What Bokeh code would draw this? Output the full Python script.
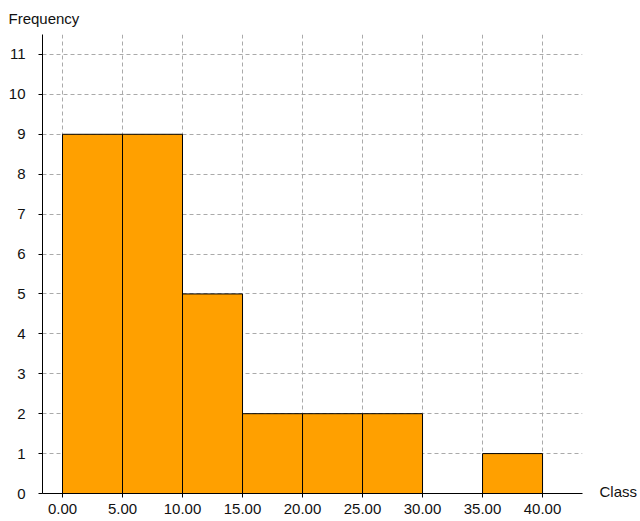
from bokeh.plotting import figure
from bokeh.models import Range1d, FixedTicker, CustomJSTickFormatter, LinearAxis, Title
from bokeh.embed import file_html
from bokeh.resources import INLINE

bin_left = [0, 5, 10, 15, 20, 25, 30, 35]
bin_right = [5, 10, 15, 20, 25, 30, 35, 40]
frequency = [9, 9, 5, 2, 2, 2, 0, 1]
x_ticks = [0, 5, 10, 15, 20, 25, 30, 35, 40]
y_ticks = list(range(0, 12))
x_title = "Class"
y_title = "Frequency"

FONT = "Liberation Sans"
TXT = "#111111"

p = figure(width=640, height=521, output_backend="svg", toolbar_location=None,
           x_range=Range1d(-1.667, 43.33), y_range=Range1d(0, 11.5),
           min_border_left=42, min_border_right=58, min_border_top=33, min_border_bottom=28)
p.outline_line_color = None
p.background_fill_color = "white"

p.quad(left=bin_left, right=bin_right, bottom=0, top=frequency,
       fill_color="#FFA000", line_color="black", line_width=1)

for ax, ticks in ((p.xaxis, x_ticks), (p.yaxis, y_ticks)):
    ax.ticker = FixedTicker(ticks=ticks)
    ax.axis_line_color = "black"
    ax.axis_line_width = 1
    ax.major_tick_line_color = "black"
    ax.major_tick_in = 0
    ax.major_tick_out = 4
    ax.minor_tick_line_color = None
    ax.major_label_text_font = FONT
    ax.major_label_text_font_size = "15px"
    ax.major_label_text_color = TXT

p.xaxis.formatter = CustomJSTickFormatter(code="return tick.toFixed(2);")
p.xaxis.major_label_standoff = 6
p.yaxis.major_label_standoff = 13

# x-axis title placed to the right of the axis end, as a label of an invisible right axis
right_axis = LinearAxis(ticker=FixedTicker(ticks=[0.05]), major_label_overrides={0.05: x_title},
                        axis_line_color=None, major_tick_line_color=None,
                        major_tick_in=0, major_tick_out=0,
                        minor_tick_line_color=None, minor_tick_in=0, minor_tick_out=0,
                        major_label_standoff=17,
                        major_label_text_font=FONT, major_label_text_font_size="15px",
                        major_label_text_color=TXT)
p.add_layout(right_axis, "right")

p.add_layout(Title(text=y_title, align="left", offset=-34, text_font=FONT,
                   text_font_size="15px", text_font_style="normal", text_color=TXT,
                   standoff=15), "above")

p.xgrid.ticker = FixedTicker(ticks=x_ticks)
p.ygrid.ticker = FixedTicker(ticks=y_ticks[1:])
for g in (p.xgrid, p.ygrid):
    g.grid_line_color = "#aaaaaa"
    g.grid_line_dash = "4 3"
    g.grid_line_width = 1

open("out.html", "w").write(file_html(p, INLINE))
